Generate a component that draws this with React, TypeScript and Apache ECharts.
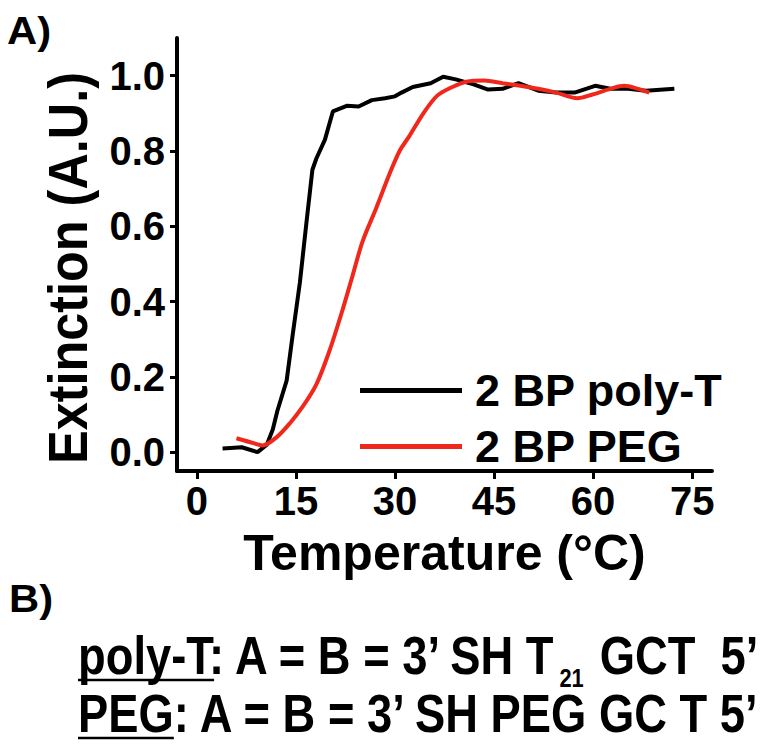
import React, { useEffect, useRef } from "react";
import * as echarts from "echarts";

const FONT = '"Liberation Sans", Arial, Helvetica, sans-serif';

const xTicks = [0, 15, 30, 45, 60, 75];
const yTicks = [0, 0.2, 0.4, 0.6, 0.8, 1.0];

const seriesNames = ["2 BP poly-T", "2 BP PEG"];

const tempPolyT = [3.9, 6.8, 9.2, 10.6, 11.5, 12.2, 13.6, 14.5, 15.6, 16.6, 17.5, 18.1, 19.4, 20.6, 22.7, 24.5, 26.5, 28.5, 30.0, 31.0, 32.7, 35.4, 37.3, 39.2, 41.9, 44.1, 46.3, 48.7, 51.7, 54.4, 57.2, 60.3, 62.6, 65.3, 68.0, 72.3];
const extPolyT = [0.01, 0.013, 0.0, 0.02, 0.06, 0.11, 0.19, 0.31, 0.45, 0.61, 0.75, 0.78, 0.83, 0.905, 0.92, 0.918, 0.935, 0.94, 0.945, 0.955, 0.97, 0.98, 0.997, 0.99, 0.977, 0.963, 0.965, 0.98, 0.96, 0.955, 0.955, 0.973, 0.965, 0.965, 0.96, 0.965];

const tempPEG = [6.0, 8.0, 10.0, 12.1, 14.1, 16.0, 18.1, 20.1, 22.1, 23.6, 25.1, 27.2, 29.2, 30.7, 32.2, 34.3, 36.4, 38.7, 40.8, 43.5, 46.3, 49.0, 51.7, 54.4, 57.6, 59.9, 62.6, 64.7, 66.8, 68.5];
const extPEG = [0.037, 0.027, 0.018, 0.04, 0.077, 0.12, 0.18, 0.27, 0.38, 0.47, 0.56, 0.65, 0.74, 0.80, 0.84, 0.90, 0.947, 0.97, 0.984, 0.987, 0.98, 0.973, 0.965, 0.955, 0.94, 0.95, 0.965, 0.973, 0.965, 0.955];

const panelA = "A)";
const panelB = "B)";
const yTitle = "Extinction (A.U.)";
const xTitle = "Temperature (°C)";

const pairs = (xs: number[], ys: number[]) => xs.map((x, i) => [x, ys[i]]);

export default function App() {
  const ref = useRef<HTMLDivElement>(null);
  useEffect(() => {
    if (!ref.current) return;
    const chart = echarts.init(ref.current, null, { renderer: "svg" });
    const lineFont = 54;
    const sx = 0.84;
    const ul = 24;
    const option: any = {
      animation: false,
      backgroundColor: "#ffffff",
      grid: { left: 177, right: 64, top: 38, bottom: 274, containLabel: false },
      xAxis: {
        type: "value",
        min: -3,
        max: 78,
        axisLine: { show: true, onZero: false, lineStyle: { color: "#000", width: 4 } },
        axisTick: { show: true, customValues: xTicks, length: 8, lineStyle: { color: "#000", width: 3 } },
        axisLabel: {
          customValues: xTicks,
          margin: 10,
          fontSize: 40,
          fontWeight: "bold",
          fontFamily: FONT,
          color: "#000",
        },
        splitLine: { show: false },
        name: xTitle,
        nameLocation: "middle",
        nameGap: 57,
        nameTextStyle: { fontSize: 50, fontWeight: "bold", fontFamily: FONT, color: "#000" },
      },
      yAxis: {
        type: "value",
        min: -0.05,
        max: 1.1,
        axisLine: { show: true, onZero: false, lineStyle: { color: "#000", width: 4 } },
        axisTick: { show: true, customValues: yTicks, length: 7, lineStyle: { color: "#000", width: 3 } },
        axisLabel: {
          customValues: yTicks,
          margin: 12,
          fontSize: 40,
          fontWeight: "bold",
          fontFamily: FONT,
          color: "#000",
          formatter: (v: number) => v.toFixed(1),
        },
        splitLine: { show: false },
      },
      legend: {
        orient: "vertical",
        left: 355,
        top: 363,
        itemWidth: 102,
        itemHeight: 5,
        itemGap: 11,
        icon: "rect",
        data: seriesNames,
        textStyle: {
          fontSize: 45,
          fontWeight: "bold",
          fontFamily: FONT,
          color: "#000",
          lineHeight: 45,
          padding: [0, 0, 0, 8],
        },
      },
      series: [
        {
          name: seriesNames[0],
          type: "line",
          data: pairs(tempPolyT, extPolyT),
          symbol: "none",
          smooth: false,
          lineStyle: { color: "#000000", width: 4 },
          itemStyle: { color: "#000000" },
          z: 2,
        },
        {
          name: seriesNames[1],
          type: "line",
          data: pairs(tempPEG, extPEG),
          symbol: "none",
          smooth: 0.3,
          lineStyle: { color: "#f0281c", width: 4 },
          itemStyle: { color: "#f0281c" },
          z: 3,
        },
      ],
      graphic: [
        {
          type: "text",
          x: 7,
          y: 31,
          scaleX: 1.1,
          style: { text: panelA, fontSize: 38, fontWeight: "bold", fontFamily: FONT, fill: "#000", align: "left", verticalAlign: "middle" },
        },
        {
          type: "text",
          x: 68,
          y: 268,
          rotation: Math.PI / 2,
          scaleX: 0.9,
          style: { text: yTitle, fontSize: 56, fontWeight: "bold", fontFamily: FONT, fill: "#000", align: "center", verticalAlign: "middle" },
        },
        {
          type: "text",
          x: 9,
          y: 599,
          scaleX: 1.1,
          style: { text: panelB, fontSize: 38, fontWeight: "bold", fontFamily: FONT, fill: "#000", align: "left", verticalAlign: "middle" },
        },
        {
          type: "group",
          x: 78,
          y: 656,
          scaleX: sx,
          children: [
            {
              type: "text",
              x: 0,
              y: 0,
              style: {
                text: "poly-T: A = B = 3’ SH T{sub|21} GCT  5’",
                fontSize: lineFont,
                fontWeight: "bold",
                fontFamily: FONT,
                fill: "#000",
                align: "left",
                verticalAlign: "middle",
                lineHeight: 70,
                rich: {
                  sub: { fontSize: 26, fontWeight: "bold", fontFamily: FONT, fill: "#000", verticalAlign: "bottom", lineHeight: 26, padding: [0, 4, 0, 0] },
                },
              },
            },
            {
              type: "line",
              shape: { x1: 0, y1: ul, x2: 3.0 * lineFont, y2: ul },
              style: { stroke: "#000", lineWidth: 2.5 },
            },
          ],
        },
        {
          type: "group",
          x: 78,
          y: 714,
          scaleX: sx,
          children: [
            {
              type: "text",
              x: 0,
              y: 0,
              style: {
                text: "PEG: A = B = 3’ SH PEG GC T 5’",
                fontSize: lineFont,
                fontWeight: "bold",
                fontFamily: FONT,
                fill: "#000",
                align: "left",
                verticalAlign: "middle",
                lineHeight: 54,
              },
            },
            {
              type: "line",
              shape: { x1: 0, y1: ul, x2: 2.112 * lineFont, y2: ul },
              style: { stroke: "#000", lineWidth: 2.5 },
            },
          ],
        },
      ],
    };
    chart.setOption(option);
    return () => chart.dispose();
  }, []);
  return <div ref={ref} style={{ position: "absolute", left: 0, top: 0, width: 776, height: 745 }} />;
}
